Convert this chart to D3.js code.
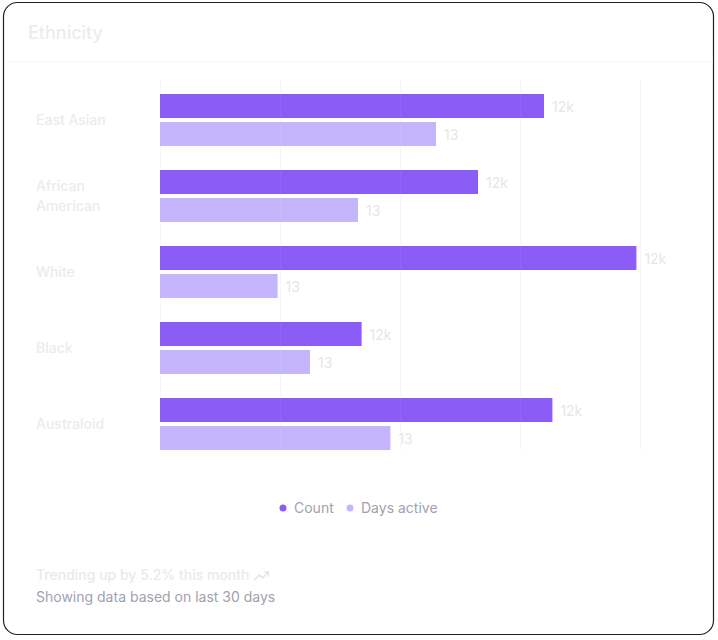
<!DOCTYPE html>
<html>
<head>
<meta charset="utf-8">
<script src="https://cdn.jsdelivr.net/npm/d3@7"></script>
<style>
  html, body { margin: 0; padding: 0; background: #ffffff; }
  svg { display: block; font-family: Inter, "Noto Sans", sans-serif; }
</style>
</head>
<body>
<svg id="chart" width="718" height="640"></svg>
<script>
// data
const categories = ['East Asian', 'African American', 'White', 'Black', 'Australoid'];
const countValues = [320, 265, 397, 168, 327];
const daysValues = [230, 165, 98, 125, 192];
const countLabels = ['12k', '12k', '12k', '12k', '12k'];
const daysLabels = ['13', '13', '13', '13', '13'];
const seriesNames = ['Count', 'Days active'];
const gridTicks = [0, 100, 200, 300, 400];

const COLOR_COUNT = '#8b5cf6';
const COLOR_DAYS = '#c4b5fd';
const COLOR_FAINT = '#ececec';
const COLOR_MUTED = '#a1a1b0';

const svg = d3.select('#chart');

// card
svg.append('rect')
  .attr('x', 3.5).attr('y', 2.5)
  .attr('width', 710).attr('height', 632)
  .attr('rx', 14)
  .attr('fill', '#ffffff')
  .attr('stroke', '#222222')
  .attr('stroke-width', 1.2);

svg.append('text')
  .attr('x', 28).attr('y', 39)
  .attr('font-size', 18).attr('font-weight', 500)
  .attr('fill', COLOR_FAINT)
  .text('Ethnicity');

svg.append('line')
  .attr('x1', 4).attr('x2', 713)
  .attr('y1', 61.5).attr('y2', 61.5)
  .attr('stroke', '#f7f7f7');

// scales
const x = d3.scaleLinear().domain([0, 400]).range([160, 640]);
const y = d3.scaleBand().domain(categories).range([82, 462]).paddingInner(24 / 76).paddingOuter(12 / 76);
const ySub = d3.scaleBand().domain(seriesNames).range([0, y.bandwidth()]).paddingInner(4 / 28);

// grid
svg.append('g').selectAll('line')
  .data(gridTicks)
  .join('line')
  .attr('x1', d => x(d) + 0.5).attr('x2', d => x(d) + 0.5)
  .attr('y1', 80).attr('y2', 450)
  .attr('stroke', '#f6f6f8');

const rows = categories.map((c, i) => ({
  cat: c,
  vals: [
    { s: 'Count', v: countValues[i], label: countLabels[i], color: COLOR_COUNT },
    { s: 'Days active', v: daysValues[i], label: daysLabels[i], color: COLOR_DAYS }
  ]
}));

const group = svg.append('g').selectAll('g')
  .data(rows)
  .join('g')
  .attr('transform', d => `translate(0,${y(d.cat)})`);

group.selectAll('rect')
  .data(d => d.vals)
  .join('rect')
  .attr('x', x(0))
  .attr('y', d => ySub(d.s))
  .attr('width', d => x(d.v) - x(0))
  .attr('height', ySub.bandwidth())
  .attr('fill', d => d.color);

// faint grid over the bars
svg.append('g').selectAll('line')
  .data(gridTicks.slice(1))
  .join('line')
  .attr('x1', d => x(d) + 0.5).attr('x2', d => x(d) + 0.5)
  .attr('y1', 80).attr('y2', 450)
  .attr('stroke', '#ffffff')
  .attr('stroke-opacity', 0.06);

group.selectAll('text.val')
  .data(d => d.vals)
  .join('text')
  .attr('class', 'val')
  .attr('x', d => x(d.v) + 8)
  .attr('y', d => ySub(d.s) + ySub.bandwidth() / 2)
  .attr('dominant-baseline', 'central')
  .attr('font-size', 14)
  .attr('fill', '#e6e6e8')
  .text(d => d.label);

// category labels (wrap long names)
group.each(function (d) {
  const words = d.cat.split(' ');
  const lines = d.cat.length > 12 ? words : [d.cat];
  const mid = y.bandwidth() / 2;
  const t = d3.select(this).append('text')
    .attr('x', 36)
    .attr('font-size', 14).attr('font-weight', 500)
    .attr('fill', COLOR_FAINT);
  lines.forEach((ln, i) => {
    t.append('tspan')
      .attr('x', 36)
      .attr('y', mid + 5 + (i - (lines.length - 1) / 2) * 20)
      .text(ln);
  });
});

// legend
const legendColors = [COLOR_COUNT, COLOR_DAYS];
const legendX = [283, 350];
const legend = svg.append('g').selectAll('g')
  .data(seriesNames)
  .join('g')
  .attr('transform', (d, i) => `translate(${legendX[i]},508)`);
legend.append('circle').attr('r', 3.5).attr('fill', (d, i) => legendColors[i]);
legend.append('text')
  .attr('x', 11).attr('y', 5)
  .attr('font-size', 14)
  .attr('fill', COLOR_MUTED)
  .text(d => d);

// footer
const trend = svg.append('text')
  .attr('x', 36).attr('y', 580)
  .attr('font-size', 14).attr('font-weight', 500)
  .attr('fill', '#eaeaea')
  .text('Trending up by 5.2% this month');
const tw = trend.node().getComputedTextLength();
const ix = 36 + tw + 5;
svg.append('path')
  .attr('d', `M${ix},580 L${ix + 5},575 L${ix + 8},578 L${ix + 14},572 M${ix + 10},572 L${ix + 14},572 L${ix + 14},576`)
  .attr('fill', 'none')
  .attr('stroke', '#e0e0e0')
  .attr('stroke-width', 1.2)
  .attr('stroke-linecap', 'round')
  .attr('stroke-linejoin', 'round');

svg.append('text')
  .attr('x', 36).attr('y', 602)
  .attr('font-size', 14)
  .attr('fill', COLOR_MUTED)
  .text('Showing data based on last 30 days');
</script>
</body>
</html>
